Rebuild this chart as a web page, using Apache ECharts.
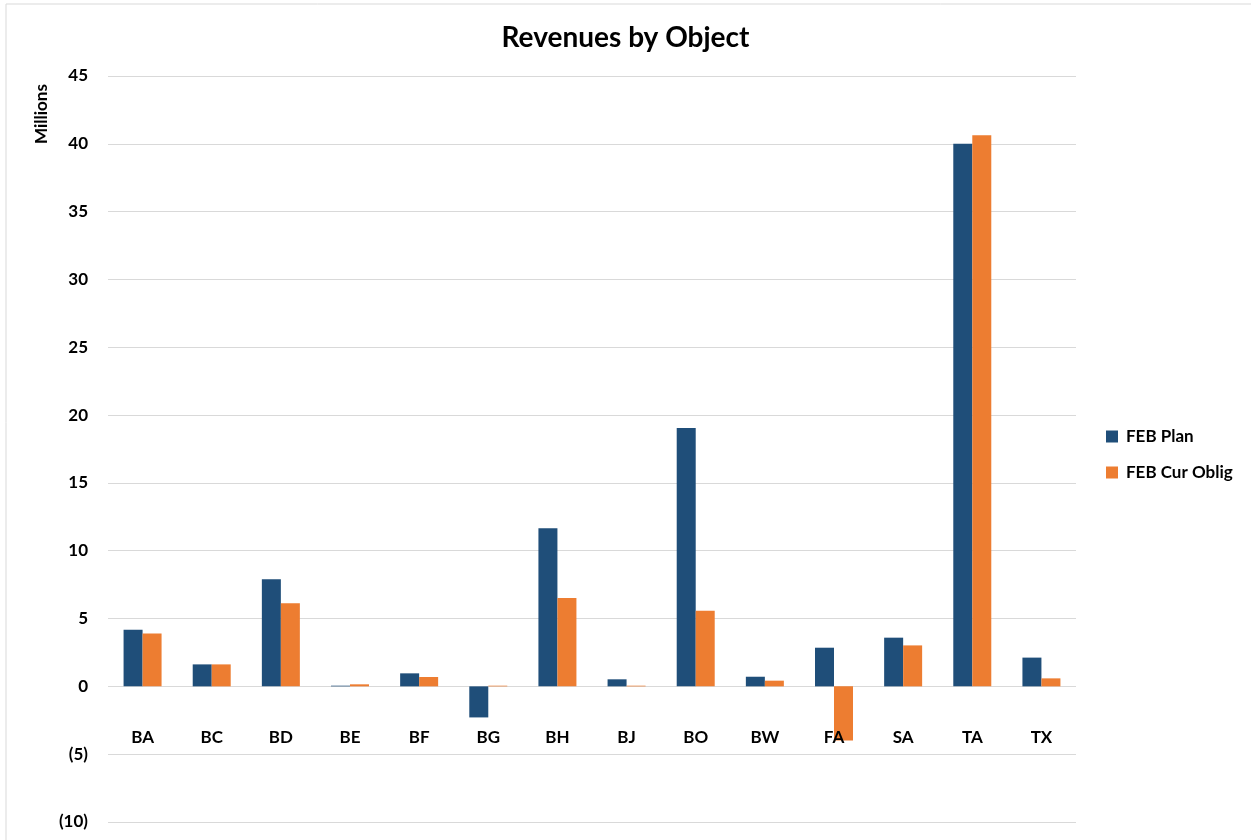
<!DOCTYPE html>
<html lang="en">
<head>
    <meta charset="UTF-8">
    <title>Revenues by Object</title>
    <script src="https://cdn.jsdelivr.net/npm/echarts@6/dist/echarts.min.js"></script>
    <style>
        html, body { margin: 0; padding: 0; background: #fff; }
        #main { width: 1251px; height: 840px; }
    </style>
</head>
<body>
    <div id="main"></div>
    <script>
        // data (millions)
        var categories = ['BA', 'BC', 'BD', 'BE', 'BF', 'BG', 'BH', 'BJ', 'BO', 'BW', 'FA', 'SA', 'TA', 'TX'];
        var planValues = [4.18, 1.62, 7.9, 0.05, 0.96, -2.29, 11.65, 0.52, 19.05, 0.71, 2.85, 3.59, 40.0, 2.12];
        var curObligValues = [3.89, 1.62, 6.12, 0.15, 0.69, 0.05, 6.51, 0.05, 5.58, 0.42, -4.0, 3.02, 40.63, 0.59];
        var seriesNames = ['FEB Plan', 'FEB Cur Oblig'];

        var font = 'Lato, "Open Sans", sans-serif';

        var chart = echarts.init(document.getElementById('main'));

        var option = {
            backgroundColor: '#fff',
            animation: false,
            title: {
                text: 'Revenues by Object',
                left: 'center',
                top: 19,
                textStyle: { fontFamily: font, fontWeight: 'bold', fontSize: 28, color: '#000' }
            },
            legend: {
                orient: 'vertical',
                left: 1101,
                top: 423,
                itemWidth: 12,
                itemHeight: 12,
                itemGap: 19,
                icon: 'rect',
                textStyle: { fontFamily: font, fontWeight: 'bold', fontSize: 17, color: '#000', padding: [0, 0, 0, 3] },
                data: seriesNames
            },
            graphic: [
                {
                    type: 'rect',
                    shape: { x: 6, y: 4, width: 1250, height: 845 },
                    style: { fill: 'none', stroke: '#d9d9d9', lineWidth: 1 }
                },
                {
                    type: 'text',
                    x: 42,
                    y: 114,
                    rotation: Math.PI / 2,
                    style: {
                        text: 'Millions',
                        font: 'bold 17px ' + font,
                        fill: '#000',
                        textAlign: 'center',
                        textVerticalAlign: 'middle'
                    }
                }
            ],
            grid: {
                left: 108,
                right: 175,
                top: 76,
                bottom: 18,
                containLabel: false,
                outerBoundsMode: 'none'
            },
            xAxis: {
                type: 'category',
                data: categories,
                z: 5,  // labels drawn over the bars (FA overlaps its negative bar)
                axisLine: { show: false, onZero: false },
                axisTick: { show: false },
                axisLabel: {
                    // labels sit between the zero line and the (5) gridline, like the original
                    margin: -93,
                    fontFamily: font,
                    fontWeight: 'bold',
                    fontSize: 17,
                    color: '#000'
                }
            },
            yAxis: {
                type: 'value',
                min: -10,
                max: 45,
                interval: 5,
                axisLine: { show: false },
                axisTick: { show: false },
                splitLine: { lineStyle: { color: '#d9d9d9', width: 1 } },
                axisLabel: {
                    margin: 20,
                    fontFamily: font,
                    fontWeight: 'bold',
                    fontSize: 17,
                    color: '#000',
                    formatter: function (v) {
                        return v < 0 ? '(' + Math.abs(v) + ')' : String(v);
                    }
                }
            },
            series: [
                {
                    name: seriesNames[0],
                    type: 'bar',
                    data: planValues,
                    barWidth: 19,
                    barGap: '0%',
                    itemStyle: { color: '#1f4e79' }
                },
                {
                    name: seriesNames[1],
                    type: 'bar',
                    data: curObligValues,
                    barWidth: 19,
                    itemStyle: { color: '#ed7d31' }
                }
            ]
        };

        chart.setOption(option);
    </script>
</body>
</html>
